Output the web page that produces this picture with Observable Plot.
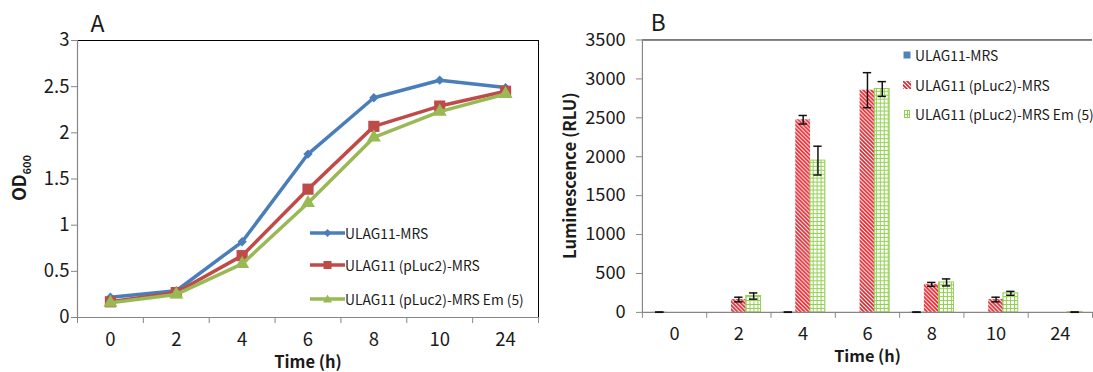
<!DOCTYPE html>
<html><head><meta charset="utf-8">
<script src="https://cdn.jsdelivr.net/npm/d3@7"></script>
<script src="https://cdn.jsdelivr.net/npm/@observablehq/plot@0.6"></script>
<style>
html,body{margin:0;padding:0;background:#fff;overflow:hidden;width:1093px;height:372px}
#wrap{position:relative;width:1093px;height:372px;overflow:hidden;font-family:"Noto Sans CJK KR","Noto Sans",sans-serif;color:#1a1a1a}
#a{position:absolute;left:0;top:0}
#b{position:absolute;left:560px;top:0}
.leg{position:absolute;font-size:13.8px;line-height:18px;white-space:nowrap;display:flex;align-items:center}
.leg svg{display:block}
</style></head><body><div id="wrap"><div id="a"></div><div id="b"></div></div>
<script>
// ---- data ----
const times = ["0", "2", "4", "6", "8", "10", "24"];
const seriesNames = ["ULAG11-MRS", "ULAG11 (pLuc2)-MRS", "ULAG11 (pLuc2)-MRS Em (5)"];
// Panel A: OD600
const odMrs     = [0.22, 0.29, 0.82, 1.77, 2.38, 2.57, 2.49];
const odPluc2   = [0.17, 0.27, 0.67, 1.39, 2.07, 2.29, 2.45];
const odPluc2Em = [0.16, 0.25, 0.58, 1.24, 1.95, 2.23, 2.42];
const yTicksA = [0, 0.5, 1, 1.5, 2, 2.5, 3];
// Panel B: luminescence (RLU) and error bars
const lumMrs      = [3, 0, 3, 0, 3, 0, 0];
const errMrs      = [2, 0, 2, 0, 2, 0, 0];
const lumPluc2    = [0, 165, 2475, 2855, 360, 165, 0];
const errPluc2    = [0, 30, 55, 225, 25, 30, 0];
const lumPluc2Em  = [0, 210, 1950, 2870, 385, 245, 3];
const errPluc2Em  = [0, 40, 185, 95, 45, 25, 2];
const yTicksB = [0, 500, 1000, 1500, 2000, 2500, 3000, 3500];

const FONT = '"Noto Sans CJK KR","Noto Sans",sans-serif';
const TXT = "#1a1a1a", AXIS = "#868686";
const colorsA = ["#4a7ebb", "#be4b48", "#98b954"];
const symbolsA = ["diamond2", "square", "triangle"];
const sizesA = [4.2, 6.3, 5.2];
const n = times.length;
const idx = d3.range(n);
const bounds = d3.range(n + 1).map(k => k - 0.5);
const xDom = [bounds[0], bounds[n]];
const plainFmt = d => String(d);

// ---- Panel A ----
const odSeries = [odMrs, odPluc2, odPluc2Em];
const dataA = odSeries.map((vals, s) => vals.map((v, i) => ({i, s: seriesNames[s], v})));
const seriesMarksA = dataA.flatMap((d, s) => [
  Plot.line(d, {x: "i", y: "v", stroke: colorsA[s], strokeWidth: 3.5}),
  Plot.dot(d, {x: "i", y: "v", symbol: symbolsA[s], r: sizesA[s], fill: colorsA[s], stroke: "none"})
]);
const plotA = Plot.plot({
  width: 560, height: 372,
  marginLeft: 77, marginRight: 22, marginTop: 40, marginBottom: 55,
  style: {fontFamily: FONT, fontSize: "18.5px", color: TXT, background: "transparent", overflow: "visible"},
  x: {type: "linear", domain: xDom},
  y: {domain: [0, 3]},
  marks: [
    Plot.axisY(yTicksA, {tickSize: 6, tickPadding: 2, tickFormat: plainFmt, stroke: AXIS, fill: TXT, label: null}),
    Plot.axisX(idx, {tickSize: 0, tickPadding: 15, tickFormat: i => times[i], fill: TXT, label: null}),
    Plot.axisX(bounds, {tickSize: 6, tickFormat: () => "", stroke: AXIS, label: null}),
    Plot.ruleY([3], {stroke: "#000", strokeWidth: 1}),
    Plot.ruleX([xDom[1]], {stroke: "#000", strokeWidth: 1}),
    Plot.ruleY([0], {stroke: AXIS, strokeWidth: 1.2}),
    Plot.ruleX([xDom[0]], {stroke: AXIS, strokeWidth: 1.2}),
    ...seriesMarksA,
    Plot.text(["A"], {frameAnchor: "top-left", lineAnchor: "middle", textAnchor: "middle", dx: 20, dy: -16, fontSize: 23, fill: TXT}),
    Plot.text(["Time (h)"], {frameAnchor: "bottom", lineAnchor: "middle", dy: 45, fontSize: 16.5, fontWeight: "bold", fill: TXT})
  ]
});
document.getElementById("a").appendChild(plotA);
{
  const ns = "http://www.w3.org/2000/svg";
  const t = document.createElementNS(ns, "text");
  t.setAttribute("transform", "translate(26,178) rotate(-90)");
  t.setAttribute("text-anchor", "middle");
  t.setAttribute("font-weight", "bold");
  t.setAttribute("font-size", "18");
  t.setAttribute("fill", TXT);
  t.innerHTML = 'OD<tspan font-size="11" dy="5">600</tspan>';
  plotA.appendChild(t);
}

// ---- Panel B ----
const lumSeries = [lumMrs, lumPluc2, lumPluc2Em];
const errSeries = [errMrs, errPluc2, errPluc2Em];
const fillsB = ["#4f81bd", "url(#diagRed)", "url(#gridGreen)"];
const strokesB = ["none", "none", "#92d050"];
const bw = 0.23;           // bar width, in band units
const capHalf = 0.065;     // error-bar cap half width, in band units
const dataB = lumSeries.map((vals, s) => vals.map((v, i) => ({
  i, s: seriesNames[s], v, e: errSeries[s][i], c: i + (s - 1) * bw
})));
const seriesMarksB = dataB.map((d, s) =>
  Plot.rectY(d.filter(r => r.v > 0), {x1: r => r.c - bw / 2, x2: r => r.c + bw / 2, y: "v",
    fill: fillsB[s], stroke: strokesB[s], strokeWidth: 1})
);
const errData = dataB.flat().filter(r => r.e > 0);
const plotB = Plot.plot({
  width: 540, height: 372,
  marginLeft: 83, marginRight: 1, marginTop: 40, marginBottom: 56,
  style: {fontFamily: FONT, fontSize: "18.5px", color: TXT, background: "transparent", overflow: "visible"},
  x: {type: "linear", domain: xDom},
  y: {domain: [0, 3500]},
  marks: [
    Plot.axisY(yTicksB, {tickSize: 6, tickPadding: 11, tickFormat: plainFmt, stroke: AXIS, fill: TXT, label: null}),
    Plot.axisX(idx, {tickSize: 0, tickPadding: 15, tickFormat: i => times[i], fill: TXT, label: null}),
    Plot.axisX(bounds, {tickSize: 6, tickFormat: () => "", stroke: AXIS, label: null}),
    Plot.ruleY([3500], {stroke: "#000", strokeWidth: 1}),
    ...seriesMarksB,
    Plot.ruleY([0], {stroke: AXIS, strokeWidth: 1.2}),
    Plot.ruleX([xDom[0]], {stroke: AXIS, strokeWidth: 1.2}),
    Plot.ruleX(errData, {x: "c", y1: r => r.v - r.e, y2: r => r.v + r.e, stroke: "#111", strokeWidth: 1.5}),
    Plot.ruleY(errData, {y: r => r.v + r.e, x1: r => r.c - capHalf, x2: r => r.c + capHalf, stroke: "#111", strokeWidth: 1.5}),
    Plot.ruleY(errData, {y: r => r.v - r.e, x1: r => r.c - capHalf, x2: r => r.c + capHalf, stroke: "#111", strokeWidth: 1.5}),
    Plot.text(["B"], {frameAnchor: "top-left", lineAnchor: "middle", textAnchor: "middle", dx: 16, dy: -16, fontSize: 23, fill: TXT}),
    Plot.text(["Time (h)"], {frameAnchor: "bottom", lineAnchor: "middle", dy: 45, fontSize: 16.5, fontWeight: "bold", fill: TXT})
  ]
});
{
  const ns = "http://www.w3.org/2000/svg";
  const defs = document.createElementNS(ns, "defs");
  defs.innerHTML = `
    <pattern id="diagRed" patternUnits="userSpaceOnUse" width="4" height="4">
      <rect width="4" height="4" fill="#fff"/>
      <path d="M-1,-1 L5,5 M3,-1 L5,1 M-1,3 L1,5" stroke="#e0222b" stroke-width="1.7"/>
    </pattern>
    <pattern id="gridGreen" patternUnits="userSpaceOnUse" width="4" height="4">
      <rect width="4" height="4" fill="#fff"/>
      <path d="M0,0.5 H4 M0.5,0 V4" stroke="#92d050" stroke-width="1"/>
    </pattern>`;
  plotB.insertBefore(defs, plotB.firstChild);
  const t = document.createElementNS(ns, "text");
  t.setAttribute("transform", "translate(12,178) rotate(-90)");
  t.setAttribute("text-anchor", "middle");
  t.setAttribute("dominant-baseline", "middle");
  t.setAttribute("font-weight", "bold");
  t.setAttribute("font-size", "17");
  t.setAttribute("fill", TXT);
  t.textContent = "Luminescence (RLU)";
  plotB.appendChild(t);
}
document.getElementById("b").appendChild(plotB);

// ---- legends ----
const wrap = document.getElementById("wrap");
const markerA = [
  (c) => `<path d="M17.5,2 L21.5,6 L17.5,10 L13.5,6Z" fill="${c}"/>`,
  (c) => `<rect x="13.5" y="2" width="8" height="8" fill="${c}"/>`,
  (c) => `<path d="M17.5,1.5 L22,9.5 L13,9.5Z" fill="${c}"/>`
];
const legTopA = [224, 256, 290];
seriesNames.forEach((name, s) => {
  const div = document.createElement("div");
  div.className = "leg";
  div.style.left = "310px"; div.style.top = legTopA[s] + "px";
  div.innerHTML = `<svg width="35" height="12"><line x1="0" x2="35" y1="6" y2="6" stroke="${colorsA[s]}" stroke-width="3.5"/>${markerA[s](colorsA[s])}</svg><span>${name}</span>`;
  wrap.appendChild(div);
});
const iconB = [
  `<rect x="0.5" y="0.5" width="7" height="7" fill="#4f81bd"/>`,
  `<rect x="0" y="0" width="8" height="8" fill="url(#diagRed)"/>`,
  `<rect x="1.5" y="0.5" width="5" height="7" fill="url(#gridGreen)" stroke="#92d050" stroke-width="1"/>`
];
const legTopB = [46, 76, 105];
seriesNames.forEach((name, s) => {
  const div = document.createElement("div");
  div.className = "leg";
  div.style.left = "903px"; div.style.top = legTopB[s] + "px";
  div.innerHTML = `<svg width="9" height="8" style="margin-right:3px">${iconB[s]}</svg><span>${name}</span>`;
  wrap.appendChild(div);
});
</script>
</body></html>
